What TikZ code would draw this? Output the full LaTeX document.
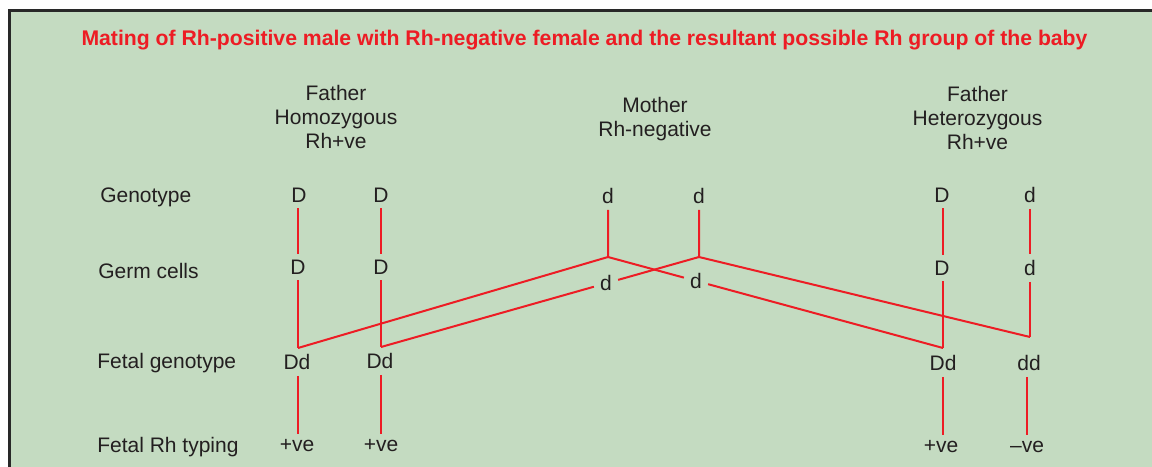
\documentclass[tikz,border=0pt]{standalone}
\usepackage{fontspec}
\setmainfont{Liberation Sans}
\definecolor{bg}{RGB}{196,219,193}
\definecolor{rl}{RGB}{237,28,36}
\definecolor{tx}{RGB}{35,31,32}
\definecolor{bd}{RGB}{40,40,40}
\begin{document}
\begin{tikzpicture}[x=0.75pt,y=-0.75pt,
  lbl/.style={text=tx,font=\fontsize{15.75}{18}\selectfont,inner sep=4.5pt},
  rowlbl/.style={text=tx,font=\fontsize{15.75}{18}\selectfont,inner sep=0pt,anchor=base west},
  head/.style={text=tx,font=\fontsize{15.75}{18}\selectfont,inner sep=0pt,anchor=north,align=center},
  rline/.style={draw=rl,line width=1.5pt,line join=miter}]
\useasboundingbox (0,0) rectangle (1152,467);
\fill[white] (0,0) rectangle (1152,467);
\draw[fill=bg,draw=bd,line width=2.25pt] (9.5,10.5) rectangle (1160,480);
\node[text=rl,font=\bfseries\fontsize{15.9}{18}\selectfont,inner sep=0pt,anchor=base] (title) at (584.5,45.5) {Mating of Rh-positive male with Rh-negative female and the resultant possible Rh group of the baby};
% row labels
\node[rowlbl] (rGen) at (100,202) {Genotype};
\node[rowlbl] (rGerm) at (98,278) {Germ cells};
\node[rowlbl] (rFet) at (97,368) {Fetal genotype};
\node[rowlbl] (rTyp) at (97,452) {Fetal Rh typing};
% headers
\node[head] (hF1) at (336,85) {Father\\Homozygous\\Rh+ve};
\node[head] (hM) at (655,97) {Mother\\Rh-negative};
\node[head] (hF2) at (977.5,86) {Father\\Heterozygous\\Rh+ve};
% genotype row
\node[lbl] (g1) at (299,195) {D};
\node[lbl] (g2) at (381,195) {D};
\node[lbl] (g3) at (608,196) {d};
\node[lbl] (g4) at (699,196) {d};
\node[lbl] (g5) at (942,195) {D};
\node[lbl] (g6) at (1030,195) {d};
% junctions and corners
\coordinate (j1) at (608,257);
\coordinate (j2) at (699,257);
\coordinate (c1) at (298,348);
\coordinate (c2) at (381,347);
\coordinate (c5) at (943,348);
\coordinate (c6) at (1030,337);
% germ row
\node[lbl] (m1) at (298,267) {D};
\node[lbl] (m2) at (381,267) {D};
\node[lbl] (m3) at (606,283.3) {d};
\node[lbl] (m4) at (696,280.9) {d};
\node[lbl] (m5) at (942,268) {D};
\node[lbl] (m6) at (1030,268) {d};
% fetal genotype
\node[lbl] (f1) at (297,362) {Dd};
\node[lbl] (f2) at (380,361) {Dd};
\node[lbl] (f5) at (943,363) {Dd};
\node[lbl] (f6) at (1029,363) {dd};
% typing
\node[lbl] (t1) at (297,446) {+ve};
\node[lbl] (t2) at (381,446) {+ve};
\node[lbl] (t5) at (941,447) {+ve};
\node[lbl] (t6) at (1027,447) {--ve};
% connectors
\draw[rline] (g1.south -| c1) -- (m1.north -| c1);
\draw[rline] (g2.south -| c2) -- (m2.north -| c2);
\draw[rline] (g5.south -| c5) -- (m5.north -| c5);
\draw[rline] (g6.south -| c6) -- (m6.north -| c6);
\draw[rline] (m1.south -| c1) -- (c1);
\draw[rline] (m2.south -| c2) -- (c2);
\draw[rline] (m5.south -| c5) -- (c5);
\draw[rline] (m6.south -| c6) -- (c6);
\draw[rline] (g3.south -| j1) -- (j1) -- (c1);
\draw[rline] (g4.south -| j2) -- (j2) -- (c6);
\draw[rline] (j1) -- (m4);
\draw[rline] (m4) -- (c5);
\draw[rline] (j2) -- (m3);
\draw[rline] (m3) -- (c2);
\draw[rline] (f1.south -| c1) -- (t1.north -| c1);
\draw[rline] (f2.south -| c2) -- (t2.north -| c2);
\draw[rline] (f5.south -| c5) -- (t5.north -| c5);
\draw[rline] (f6.south -| t6) -- (t6.north -| t6);
\end{tikzpicture}
\end{document}
